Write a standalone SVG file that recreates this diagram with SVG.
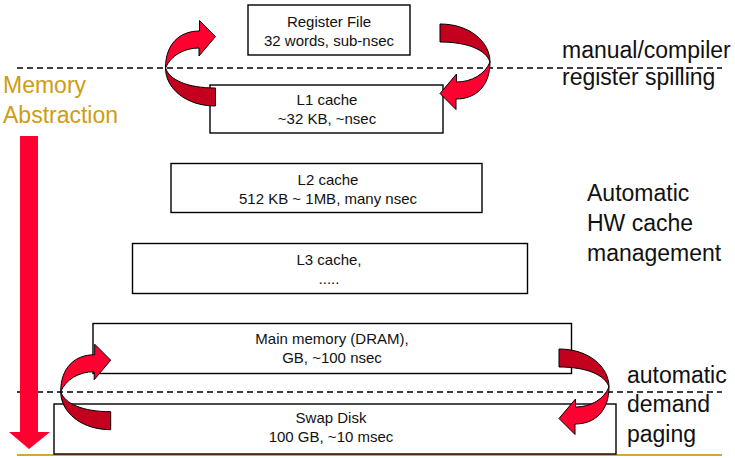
<svg xmlns="http://www.w3.org/2000/svg" xmlns:xlink="http://www.w3.org/1999/xlink" width="735" height="458" viewBox="0 0 735 458">
<style>
.box{fill:#fff;stroke:#000;stroke-width:1.4}
.bt{font-family:"Liberation Sans",Arial,sans-serif;font-size:15px;fill:#111;text-anchor:middle}
.side{font-family:"Liberation Sans",Arial,sans-serif;font-size:23px;fill:#111}
.gold{font-family:"Liberation Sans",Arial,sans-serif;font-size:23px;fill:#CF9C12}
.dash{stroke:#000;stroke-width:1.5;stroke-dasharray:6 4;fill:none}
.dark{fill:#C4001F;stroke:#000;stroke-width:1;stroke-linejoin:miter}
.bright{fill:#FF0030;stroke:#000;stroke-width:1;stroke-linejoin:miter}
</style>
<defs>
<g id="curl">
<path class="dark" d="M0,0 C0,20 20,38 50,38 L50,20 C22,20 4,12 0,0 Z"/>
<path class="bright" d="M0,0 C0,-24 14,-37 34,-37 L34,-47.5 L50,-31.5 L33.5,-12 L33.5,-20 C18,-20 5,-12 0,0 Z"/>
</g>
</defs>
<rect width="735" height="458" fill="#fff"/>
<line x1="17" y1="455" x2="722" y2="455" stroke="#D3A53A" stroke-width="2"/>
<g id="dividers">
<line class="dash" x1="17" y1="68" x2="722" y2="68"/>
<line class="dash" x1="17" y1="392" x2="722" y2="392"/>
</g>
<g id="register-file">
<rect class="box" x="248" y="5" width="162" height="50"/>
<text class="bt" x="329" y="26.5">Register File</text>
<text class="bt" x="329" y="45.5">32 words, sub-nsec</text>
</g>
<g id="l1-cache">
<rect class="box" x="210" y="85" width="233" height="48"/>
<text class="bt" x="327" y="105">L1 cache</text>
<text class="bt" x="327" y="123.5">~32 KB, ~nsec</text>
</g>
<g id="l2-cache">
<rect class="box" x="171" y="163.5" width="311" height="49"/>
<text class="bt" x="328" y="185">L2 cache</text>
<text class="bt" x="328" y="204">512 KB ~ 1MB, many nsec</text>
</g>
<g id="l3-cache">
<rect class="box" x="132.5" y="243.5" width="395" height="50"/>
<text class="bt" x="329" y="265">L3 cache,</text>
<text class="bt" x="329" y="283.5">.....</text>
</g>
<g id="main-memory">
<rect class="box" x="93" y="323.5" width="478.5" height="50"/>
<text class="bt" x="332" y="344">Main memory (DRAM),</text>
<text class="bt" x="332" y="363">GB, ~100 nsec</text>
</g>
<g id="swap-disk">
<rect class="box" x="54" y="404" width="562" height="50"/>
<text class="bt" x="331" y="423">Swap Disk</text>
<text class="bt" x="331" y="442">100 GB, ~10 msec</text>
</g>
<g id="connectors">
<use xlink:href="#curl" href="#curl" transform="translate(165.5,68)"/>
<use xlink:href="#curl" href="#curl" transform="translate(490,62) rotate(180)"/>
<use xlink:href="#curl" href="#curl" transform="translate(60.7,391.7)"/>
<use xlink:href="#curl" href="#curl" transform="translate(609,387) rotate(180)"/>
<path d="M20,136 L38,136 L38,432 L50,432 L29,449 L9,432 L20,432 Z" fill="#FF0030"/>
</g>
<g id="labels">
<text class="gold" x="3" y="93">Memory</text>
<text class="gold" x="3" y="123">Abstraction</text>
<text class="side" x="562" y="58">manual/compiler</text>
<text class="side" x="562" y="85">register spilling</text>
<text class="side" x="587" y="201">Automatic</text>
<text class="side" x="587" y="231">HW cache</text>
<text class="side" x="587" y="261">management</text>
<text class="side" x="627" y="383">automatic</text>
<text class="side" x="627" y="412">demand</text>
<text class="side" x="627" y="442">paging</text>
</g>
</svg>
